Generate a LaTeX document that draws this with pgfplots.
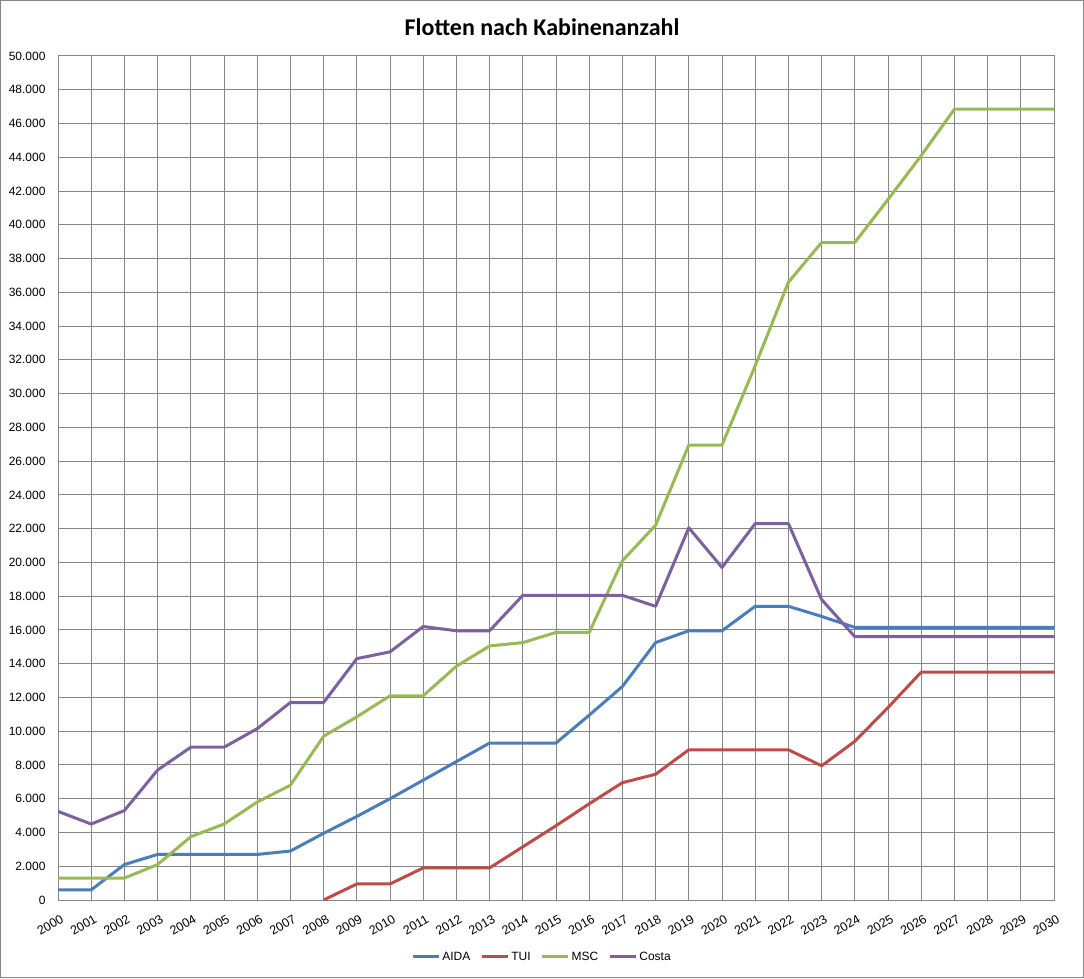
\documentclass[border=0pt]{standalone}
\usepackage{pgfplots}
\pgfplotsset{compat=1.18}
\usepackage{fontspec}
\setmainfont{Liberation Sans}
\newfontfamily\titlefont{Carlito}

\definecolor{aida}{HTML}{4A7EBB}
\definecolor{tui}{HTML}{BE4B48}
\definecolor{msc}{HTML}{98B954}
\definecolor{costa}{HTML}{7D60A0}
\definecolor{gridgray}{HTML}{868686}

\begin{document}
\begin{tikzpicture}[x=1pt,y=1pt]
  \draw[gridgray, line width=1pt, fill=white] (0.5,0.5) rectangle (1083.5,977.5);
  \node[font=\titlefont\bfseries\fontsize{24}{28}\selectfont] at (542,951) {Flotten nach Kabinenanzahl};
  \begin{axis}[
    at={(58pt,78pt)}, anchor=south west,
    scale only axis,
    width=996pt, height=844pt,
    xmin=2000, xmax=2030,
    ymin=0, ymax=50000,
    xtick distance=1,
    ytick distance=2000,
    grid=major,
    major grid style={gridgray, line width=1pt},
    axis line style={gridgray, line width=1pt},
    major tick length=0pt,
    /pgf/number format/assume math mode=true,
    yticklabel style={font=\fontsize{12}{14}\selectfont, xshift=-9pt,
      /pgf/number format/.cd, 1000 sep={.}},
    xticklabel style={font=\fontsize{12.5}{15}\selectfont, rotate=30, anchor=north east,
      inner sep=0pt, xshift=-5pt, yshift=-13pt, /pgf/number format/.cd, 1000 sep={}},
    scaled y ticks=false,
    legend style={at={(0.486,-0.0675)}, anchor=center, draw=none,
      legend columns=-1, font=\fontsize{12}{14}\selectfont,
      /tikz/every even column/.append style={column sep=8pt}},
    legend image code/.code={\draw[#1, line width=3pt] (0pt,0pt) -- (26pt,0pt);},
    every axis plot/.append style={line width=3pt, line join=round, mark=none},
  ]
  \addplot[aida] coordinates {
    (2000,600) (2001,600) (2002,2100) (2003,2700) (2004,2700) (2005,2700)
    (2006,2700) (2007,2900) (2008,3950) (2009,4950) (2010,6000) (2011,7100)
    (2012,8200) (2013,9300) (2014,9300) (2015,9300) (2016,10950) (2017,12650)
    (2018,15250) (2019,15950) (2020,15950) (2021,17400) (2022,17400) (2023,16800)
    (2024,16150) (2025,16150) (2026,16150) (2027,16150) (2028,16150) (2029,16150) (2030,16150)
  };
  \addlegendentry{AIDA}
  \addplot[tui] coordinates {
    (2008,0) (2009,950) (2010,950) (2011,1900) (2012,1900) (2013,1900)
    (2014,3150) (2015,4400) (2016,5700) (2017,6950) (2018,7450) (2019,8900)
    (2020,8900) (2021,8900) (2022,8900) (2023,7950) (2024,9400) (2025,11400)
    (2026,13500) (2027,13500) (2028,13500) (2029,13500) (2030,13500)
  };
  \addlegendentry{TUI}
  \addplot[msc] coordinates {
    (2000,1300) (2001,1300) (2002,1300) (2003,2100) (2004,3750) (2005,4500)
    (2006,5800) (2007,6800) (2008,9700) (2009,10850) (2010,12100) (2011,12100)
    (2012,13850) (2013,15050) (2014,15250) (2015,15850) (2016,15850) (2017,20100)
    (2018,22200) (2019,26950) (2020,26950) (2021,31650) (2022,36600) (2023,38950)
    (2024,38950) (2025,41500) (2026,44100) (2027,46850) (2028,46850) (2029,46850) (2030,46850)
  };
  \addlegendentry{MSC}
  \addplot[costa] coordinates {
    (2000,5250) (2001,4500) (2002,5300) (2003,7700) (2004,9050) (2005,9050)
    (2006,10150) (2007,11700) (2008,11700) (2009,14300) (2010,14700) (2011,16200)
    (2012,15950) (2013,15950) (2014,18050) (2015,18050) (2016,18050) (2017,18050)
    (2018,17400) (2019,22050) (2020,19700) (2021,22300) (2022,22300) (2023,17800)
    (2024,15600) (2025,15600) (2026,15600) (2027,15600) (2028,15600) (2029,15600) (2030,15600)
  };
  \addlegendentry{Costa}
  \end{axis}
\end{tikzpicture}
\end{document}
